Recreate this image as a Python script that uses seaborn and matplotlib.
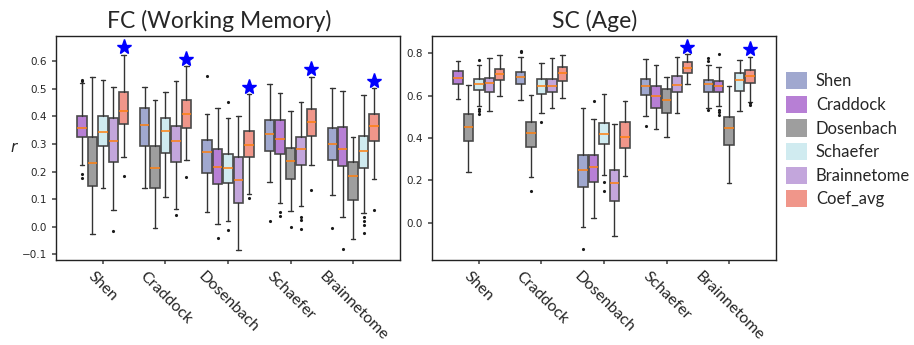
import numpy as np
import matplotlib
matplotlib.use("Agg")
import matplotlib.pyplot as plt
from matplotlib.patches import Patch
import seaborn as sns

ATLASES = ["Shen", "Craddock", "Dosenbach", "Schaefer", "Brainnetome"]
HUES = ATLASES + ["Coef_avg"]
COLORS = ["#a0a8cf", "#b77fd5", "#9e9e9e", "#d0ebf0", "#c3a6dc", "#f0968a"]

# one row per x group; boxes in HUES order, the group's own atlas left out
# ---- FC (Working Memory) ----
FC_WHISHI = [[0.519, 0.540, 0.531, 0.507, 0.623],
             [0.507, 0.460, 0.488, 0.527, 0.581],
             [0.407, 0.428, 0.393, 0.399, 0.480],
             [0.515, 0.483, 0.417, 0.452, 0.541],
             [0.501, 0.491, 0.323, 0.478, 0.501]]
FC_Q3 = [[0.402, 0.324, 0.400, 0.392, 0.488],
         [0.428, 0.293, 0.394, 0.365, 0.457],
         [0.315, 0.282, 0.265, 0.252, 0.346],
         [0.388, 0.388, 0.284, 0.326, 0.427],
         [0.359, 0.362, 0.236, 0.330, 0.409]]
FC_MED = [[0.359, 0.232, 0.344, 0.312, 0.419],
          [0.367, 0.213, 0.347, 0.310, 0.407],
          [0.269, 0.218, 0.213, 0.171, 0.296],
          [0.335, 0.317, 0.238, 0.283, 0.380],
          [0.301, 0.283, 0.184, 0.275, 0.365]]
FC_Q1 = [[0.323, 0.148, 0.293, 0.235, 0.371],
         [0.293, 0.142, 0.266, 0.236, 0.357],
         [0.196, 0.156, 0.160, 0.087, 0.251],
         [0.274, 0.264, 0.172, 0.224, 0.330],
         [0.243, 0.220, 0.098, 0.214, 0.309]]
FC_WHISLO = [[0.224, -0.025, 0.140, 0.062, 0.254],
             [0.140, -0.003, 0.109, 0.066, 0.240],
             [0.055, 0.009, 0.021, -0.083, 0.120],
             [0.162, 0.087, 0.056, 0.075, 0.225],
             [0.114, 0.034, -0.045, 0.050, 0.173]]
FC_FLIERS = [[[0.531, 0.527, 0.190, 0.178], [], [], [-0.015], [0.184]],
             [[], [], [], [0.041], [0.180]],
             [[0.547], [-0.041], [0.452, -0.012], [], [0.103]],
             [[0.021], [0.052, 0.039], [0.000], [0.034, 0.023, -0.007], [0.132]],
             [[-0.003], [-0.080], [], [0.035, 0.021, 0.007, -0.023], [0.060]]]
FC_STARS = [0.652, 0.608, 0.504, 0.570, 0.526]

# ---- SC (Age) ----
SC_WHISHI = [[0.762, 0.652, 0.746, 0.776, 0.791],
             [0.784, 0.605, 0.756, 0.776, 0.791],
             [0.540, 0.490, 0.606, 0.465, 0.573],
             [0.773, 0.745, 0.688, 0.784, 0.797],
             [0.745, 0.737, 0.644, 0.769, 0.781]]
SC_Q3 = [[0.718, 0.512, 0.680, 0.685, 0.728],
         [0.710, 0.476, 0.677, 0.680, 0.734],
         [0.321, 0.318, 0.469, 0.249, 0.477],
         [0.679, 0.644, 0.630, 0.691, 0.761],
         [0.676, 0.671, 0.501, 0.709, 0.721]]
SC_MED = [[0.685, 0.450, 0.657, 0.658, 0.702],
          [0.687, 0.425, 0.644, 0.646, 0.706],
          [0.249, 0.265, 0.417, 0.186, 0.406],
          [0.644, 0.597, 0.581, 0.650, 0.732],
          [0.657, 0.647, 0.446, 0.672, 0.694]]
SC_Q1 = [[0.655, 0.387, 0.627, 0.619, 0.674],
         [0.655, 0.356, 0.608, 0.617, 0.669],
         [0.170, 0.191, 0.370, 0.102, 0.351],
         [0.605, 0.543, 0.517, 0.617, 0.707],
         [0.619, 0.617, 0.365, 0.622, 0.661]]
SC_WHISLO = [[0.583, 0.239, 0.553, 0.526, 0.598],
             [0.580, 0.216, 0.518, 0.540, 0.587],
             [-0.020, 0.022, 0.225, -0.063, 0.220],
             [0.502, 0.441, 0.403, 0.520, 0.654],
             [0.540, 0.551, 0.189, 0.528, 0.572]]
SC_FLIERS = [[[], [], [0.767, 0.537, 0.528, 0.512], [], []],
             [[0.813, 0.805], [0.148], [0.474], [], []],
             [[-0.126], [0.573], [0.194, 0.151], [], []],
             [[0.457], [], [], [], []],
             [[0.776, 0.764, 0.531], [0.795, 0.532, 0.521, 0.510], [], [], [0.564, 0.554]]]
SC_STARS = [np.nan, np.nan, np.nan, 0.831, 0.819]

sns.set_theme(style="ticks")
plt.rcParams["font.family"] = ["DejaVu Sans"]
LABEL_FONT = "Lato"

STEP = 1 / 6
WIDTH = 0.15


def draw_panel(ax, whislo, q1, med, q3, whishi, fliers, stars, title, ylim, yticks):
    for g in range(len(ATLASES)):
        hue_idx = [h for h in range(len(HUES)) if h != g]
        stats, pos = [], []
        for k, h in enumerate(hue_idx):
            stats.append(dict(whislo=whislo[g][k], q1=q1[g][k], med=med[g][k],
                              q3=q3[g][k], whishi=whishi[g][k], fliers=fliers[g][k]))
            pos.append(g + (k - 2) * STEP)
        bp = ax.bxp(stats, positions=pos, widths=WIDTH, patch_artist=True,
                    manage_ticks=False,
                    boxprops=dict(edgecolor="#4a4a4a", linewidth=1.2),
                    medianprops=dict(color="#ff7f0e", linewidth=1.1),
                    whiskerprops=dict(color="#333333", linewidth=1.0),
                    capprops=dict(color="#333333", linewidth=1.0),
                    flierprops=dict(marker=".", markersize=2.5, markerfacecolor="k",
                                    markeredgecolor="k", linestyle="none"))
        for patch, h in zip(bp["boxes"], hue_idx):
            patch.set_facecolor(COLORS[h])
        if not np.isnan(stars[g]):
            ax.plot(pos[-1], stars[g], marker="*", color="blue", markersize=11,
                    linestyle="none")
    ax.set_xlim(-0.75, 4.75)
    ax.set_ylim(*ylim)
    ax.set_yticks(yticks)
    ax.set_xticks(range(len(ATLASES)))
    ax.set_xticklabels(ATLASES, rotation=-45, fontsize=11.5, family=LABEL_FONT)
    ax.tick_params(axis="y", labelsize=7.5, length=3, color="#555555")
    ax.tick_params(axis="x", length=3, color="#555555")
    ax.set_title(title, fontsize=16.5, family=LABEL_FONT, pad=6, x=0.474)
    for sp in ax.spines.values():
        sp.set_color("#222222")
        sp.set_linewidth(1.0)


fig = plt.figure(figsize=(9.14, 3.45), dpi=100)
ax1 = fig.add_axes([56 / 914, 85 / 345, 344 / 914, 224 / 345])
ax2 = fig.add_axes([432 / 914, 85 / 345, 344 / 914, 224 / 345])

draw_panel(ax1, FC_WHISLO, FC_Q1, FC_MED, FC_Q3, FC_WHISHI, FC_FLIERS, FC_STARS,
           "FC (Working Memory)", (-0.12, 0.69), np.round(np.arange(-0.1, 0.61, 0.1), 1))
draw_panel(ax2, SC_WHISLO, SC_Q1, SC_MED, SC_Q3, SC_WHISHI, SC_FLIERS, SC_STARS,
           "SC (Age)", (-0.176, 0.882), np.round(np.arange(0.0, 0.81, 0.2), 1))

ax1.set_ylabel("r", fontsize=11, style="italic", rotation=0, labelpad=6, va="center")

handles = [Patch(facecolor=c, edgecolor="none") for c in COLORS]
fig.legend(handles, HUES, loc="upper left", bbox_to_anchor=(786 / 914, 1 - 72 / 345),
           frameon=False, prop=dict(family=LABEL_FONT, size=12),
           borderpad=0, borderaxespad=0,
           handlelength=1.24, handleheight=1.22, labelspacing=0.38, handletextpad=0.55)

fig.savefig("out.png", dpi=100)
